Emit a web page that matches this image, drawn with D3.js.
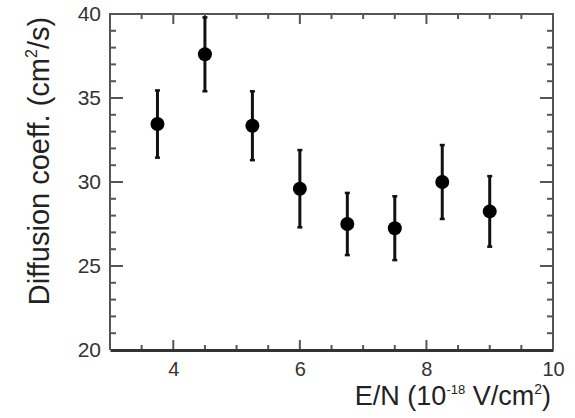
<!DOCTYPE html>
<html>
<head>
<meta charset="utf-8">
<script src="https://cdn.jsdelivr.net/npm/d3@7"></script>
<style>
  body { margin: 0; background: #fff; }
  svg { display: block; font-family: "Liberation Sans", Arial, sans-serif; }
</style>
</head>
<body>
<div id="chart"></div>
<script>
const enValues = [3.75, 4.5, 5.25, 6.0, 6.75, 7.5, 8.25, 9.0];
const diffValues = [33.45, 37.6, 33.35, 29.6, 27.5, 27.25, 30.0, 28.25];
const errValues = [2.0, 2.2, 2.05, 2.3, 1.85, 1.9, 2.2, 2.1];

const xMajorTicks = [4, 6, 8, 10];
const yMajorTicks = [20, 25, 30, 35, 40];
const xMinorTicks = [3.5, 4.5, 5, 5.5, 6.5, 7, 7.5, 8.5, 9, 9.5];
const yMinorTicks = [21, 22, 23, 24, 26, 27, 28, 29, 31, 32, 33, 34, 36, 37, 38, 39];

const width = 575;
const height = 418;
const margin = { top: 14, right: 22, bottom: 68, left: 110 };
const axisColor = "#555";

const data = enValues.map((x, i) => ({ x, y: diffValues[i], err: errValues[i] }));

const xScale = d3.scaleLinear().domain([3, 10]).range([margin.left, width - margin.right]);
const yScale = d3.scaleLinear().domain([20, 40]).range([height - margin.bottom, margin.top]);

const svg = d3
  .select("#chart")
  .append("svg")
  .attr("width", width)
  .attr("height", height);

const x0 = margin.left;
const x1 = width - margin.right;
const y0 = height - margin.bottom;
const y1 = margin.top;

// inward ticks on all four sides
const ticks = svg.append("g").attr("stroke", axisColor).attr("stroke-width", 2);
const xTickData = [
  ...xMinorTicks.map((v) => ({ v, len: 5 })),
  ...xMajorTicks.filter((v) => v < 10).map((v) => ({ v, len: 10 })),
];
const yTickData = [
  ...yMinorTicks.map((v) => ({ v, len: 6 })),
  ...yMajorTicks.filter((v) => v > 20 && v < 40).map((v) => ({ v, len: 13 })),
];
ticks.selectAll(".xb").data(xTickData).join("line").attr("class", "xb")
  .attr("x1", (d) => xScale(d.v)).attr("x2", (d) => xScale(d.v))
  .attr("y1", y0).attr("y2", (d) => y0 - d.len);
ticks.selectAll(".xt").data(xTickData).join("line").attr("class", "xt")
  .attr("x1", (d) => xScale(d.v)).attr("x2", (d) => xScale(d.v))
  .attr("y1", y1).attr("y2", (d) => y1 + d.len);
ticks.selectAll(".yl").data(yTickData).join("line").attr("class", "yl")
  .attr("y1", (d) => yScale(d.v)).attr("y2", (d) => yScale(d.v))
  .attr("x1", x0).attr("x2", (d) => x0 + d.len);
ticks.selectAll(".yr").data(yTickData).join("line").attr("class", "yr")
  .attr("y1", (d) => yScale(d.v)).attr("y2", (d) => yScale(d.v))
  .attr("x1", x1).attr("x2", (d) => x1 - d.len);

// frame
svg.append("path")
  .attr("d", `M${x0},${y0}V${y1}H${x1}V${y0}`)
  .attr("fill", "none").attr("stroke", axisColor).attr("stroke-width", 2);

// tick labels via axes (ticks themselves hidden)
svg.append("g")
  .attr("transform", `translate(0,${y0})`)
  .call(d3.axisBottom(xScale).tickValues(xMajorTicks).tickFormat(d3.format("d")).tickSize(0).tickPadding(12))
  .call((g) => {
    g.select(".domain").attr("stroke", "#333").attr("stroke-width", 3);
    g.selectAll("text").attr("fill", "#333").style("font-size", "20px");
  });

svg.append("g")
  .attr("transform", `translate(${x0},0)`)
  .call(d3.axisLeft(yScale).tickValues(yMajorTicks).tickFormat(d3.format("d")).tickSize(0).tickPadding(9))
  .call((g) => {
    g.select(".domain").remove();
    g.selectAll("text").attr("fill", "#333").style("font-size", "21px");
  });

// axis titles
const xTitle = svg
  .append("text")
  .attr("x", width - 24)
  .attr("y", 405)
  .attr("text-anchor", "end")
  .attr("fill", "#222")
  .style("font-size", "27px");
xTitle.append("tspan").text("E/N (10");
xTitle.append("tspan").attr("dy", -11).style("font-size", "13px").text("-18");
xTitle.append("tspan").attr("dy", 11).text(" V/cm");
xTitle.append("tspan").attr("dy", -11).style("font-size", "14px").text("2");
xTitle.append("tspan").attr("dy", 11).text(")");

const yTitle = svg
  .append("text")
  .attr("transform", `translate(49,${161}) rotate(-90)`)
  .attr("text-anchor", "middle")
  .attr("fill", "#222")
  .style("font-size", "29px");
yTitle.append("tspan").text("Diffusion coeff. (cm");
yTitle.append("tspan").attr("dy", -12).style("font-size", "16px").text("2");
yTitle.append("tspan").attr("dy", 12).text("/s)");

// error bars
const bars = svg.append("g").attr("stroke", "#111");
bars
  .selectAll(".err")
  .data(data)
  .join("line")
  .attr("class", "err")
  .attr("x1", (d) => xScale(d.x))
  .attr("x2", (d) => xScale(d.x))
  .attr("y1", (d) => yScale(d.y + d.err))
  .attr("y2", (d) => yScale(d.y - d.err))
  .attr("stroke-width", 3);

bars
  .selectAll(".cap")
  .data(data.flatMap((d) => [{ x: d.x, y: d.y + d.err }, { x: d.x, y: d.y - d.err }]))
  .join("line")
  .attr("class", "cap")
  .attr("x1", (d) => xScale(d.x) - 2.5)
  .attr("x2", (d) => xScale(d.x) + 2.5)
  .attr("y1", (d) => yScale(d.y))
  .attr("y2", (d) => yScale(d.y))
  .attr("stroke-width", 2.5);

svg
  .append("g")
  .selectAll("circle")
  .data(data)
  .join("circle")
  .attr("cx", (d) => xScale(d.x))
  .attr("cy", (d) => yScale(d.y))
  .attr("r", 7)
  .attr("fill", "#000");
</script>
</body>
</html>
